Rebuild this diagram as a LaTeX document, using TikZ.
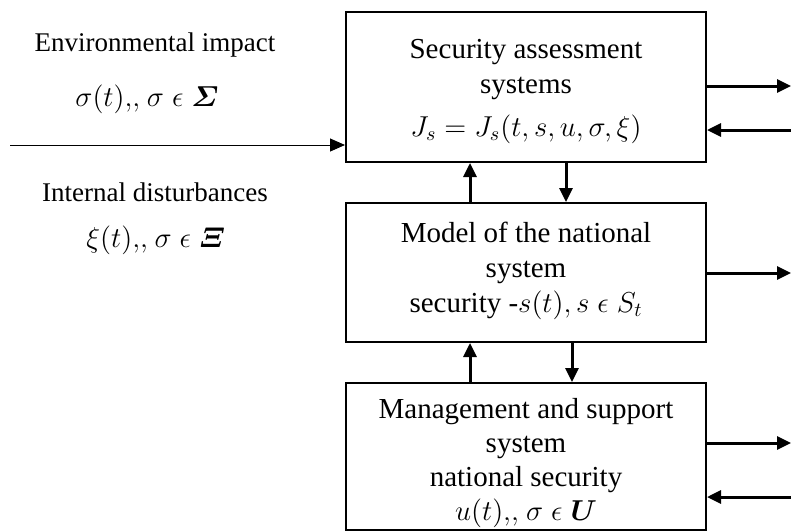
\documentclass[tikz,border=0pt]{standalone}
\usepackage{amsmath}
\usepackage{fontspec}
\setmainfont{Liberation Serif}
\usetikzlibrary{arrows.meta}

\tikzset{
  block/.style={draw, rectangle, line width=1pt, minimum width=180pt, inner sep=0pt},
  blocktext/.style={align=center, inner sep=0pt, font=\fontsize{14.5}{17.5}\selectfont},
  link/.style={-{Triangle[length=7pt,width=6.5pt]}, line width=1.5pt},
  feed/.style={-{Triangle[length=7.5pt,width=6.5pt]}, line width=0.5pt}
}

\begin{document}
\begin{tikzpicture}[x=0.5pt, y=-0.5pt, font=\fontsize{13.5}{17.5}\selectfont]
  \useasboundingbox (0,0) rectangle (791,531);
  % Blocks
  \node[block, minimum height=75pt] (assess) at (526,87) {};
  \node[blocktext] (assesstext) at (526,91)
    {Security assessment\\systems\\[4pt]$J_s = J_s(t,s,u,\sigma,\xi)$};
  \node[block, minimum height=69.5pt] (model) at (526,272.5) {};
  \node[blocktext] (modeltext) at (526,271)
    {Model of the national\\system\\security -$s(t), s \mathrel{\epsilon} S_t$};
  \node[block, minimum height=73.5pt] (manage) at (526,456.5) {};
  \node[blocktext, font=\fontsize{14.5}{17}\selectfont] (managetext) at (526,463)
    {Management and support\\system\\national security\\$u(t){,}{,}\ \sigma \mathrel{\epsilon} \boldsymbol{U}$};
  % Influences
  \node (env) at (155,45) {Environmental impact};
  \node (envsym) at (147,99) {$\sigma(t){,}{,}\ \sigma \mathrel{\epsilon} \boldsymbol{\varSigma}$};
  \node (dist) at (155,192) {Internal disturbances};
  \node (distsym) at (156,240) {$\xi(t){,}{,}\ \sigma \mathrel{\epsilon} \boldsymbol{\varXi}$};
  \coordinate (src) at (10,145);
  \draw[feed] (src) -- (assess.west |- src);
  % Outputs and inputs on the right
  \coordinate (r1) at (791,86);
  \coordinate (r2) at (791,130);
  \coordinate (r3) at (791,273);
  \coordinate (r4) at (791,443);
  \coordinate (r5) at (791,497);
  \draw[link] (assess.east |- r1) -- (r1);
  \draw[link] (r2) -- (assess.east |- r2);
  \draw[link] (model.east |- r3) -- (r3);
  \draw[link] (manage.east |- r4) -- (r4);
  \draw[link] (r5) -- (manage.east |- r5);
  % Links between blocks
  \draw[link] ([xshift=-28pt]model.north) -- ([xshift=-28pt]assess.south);
  \draw[link] ([xshift=20pt]assess.south) -- ([xshift=20pt]model.north);
  \draw[link] ([xshift=-28pt]manage.north) -- ([xshift=-28pt]model.south);
  \draw[link] ([xshift=23pt]model.south) -- ([xshift=23pt]manage.north);
\end{tikzpicture}
\end{document}
